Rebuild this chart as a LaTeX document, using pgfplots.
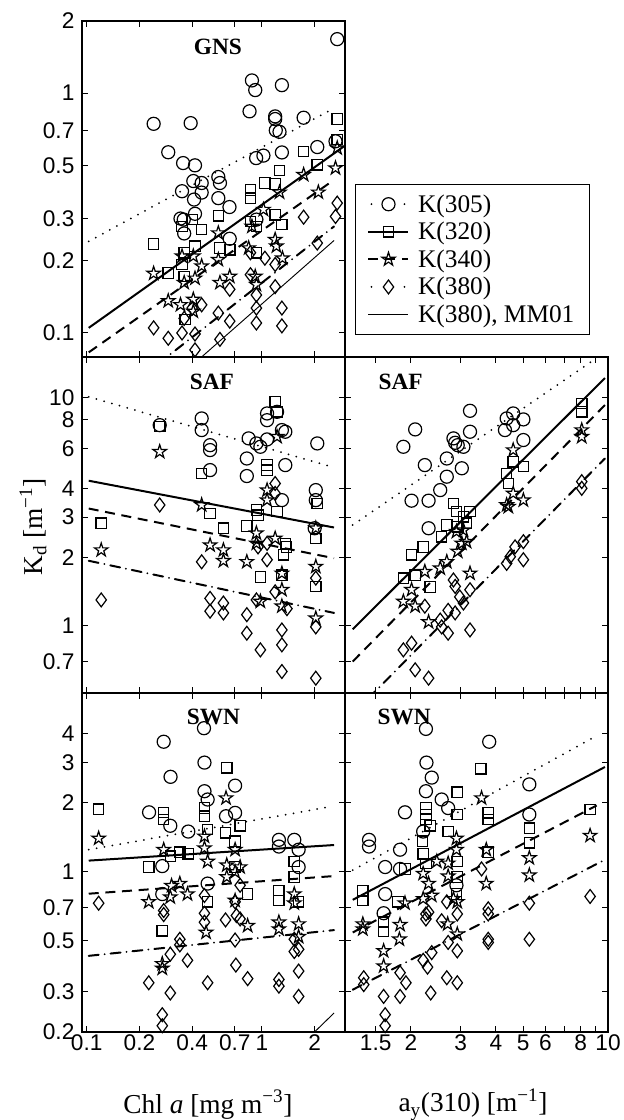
\documentclass[border=0pt]{standalone}
\usepackage{fontspec}
\setmainfont{Liberation Serif}
\newfontfamily\ticksf{Liberation Sans}
\usepackage{pgfplots}
\pgfplotsset{compat=1.18}

% five-pointed open star, like matlab's pentagram
\pgfdeclareplotmark{pstar}{%
  \pgfpathmoveto{\pgfpointpolar{90}{\pgfplotmarksize}}%
  \pgfpathlineto{\pgfpointpolar{126}{0.382\pgfplotmarksize}}%
  \pgfpathlineto{\pgfpointpolar{162}{\pgfplotmarksize}}%
  \pgfpathlineto{\pgfpointpolar{198}{0.382\pgfplotmarksize}}%
  \pgfpathlineto{\pgfpointpolar{234}{\pgfplotmarksize}}%
  \pgfpathlineto{\pgfpointpolar{270}{0.382\pgfplotmarksize}}%
  \pgfpathlineto{\pgfpointpolar{306}{\pgfplotmarksize}}%
  \pgfpathlineto{\pgfpointpolar{342}{0.382\pgfplotmarksize}}%
  \pgfpathlineto{\pgfpointpolar{18}{\pgfplotmarksize}}%
  \pgfpathlineto{\pgfpointpolar{54}{0.382\pgfplotmarksize}}%
  \pgfpathclose
  \pgfusepathqstroke
}

\tikzset{kdttl/.style={font=\bfseries\fontsize{17.5}{17.5}\selectfont},
  kdlab/.style={font=\fontsize{20.5}{20.5}\selectfont}}

\pgfplotsset{
  kdpanel/.style={scale only axis, width=197.25pt, anchor=south west,
    axis line style={line width=0.9pt}, every tick/.style={black, line width=0.75pt},
    tick align=inside, major tick length=4.5pt, minor tick length=0pt,
    tick label style={font=\ticksf\fontsize{17}{17}\selectfont},
    xticklabel style={inner sep=2pt}, yticklabel style={inner sep=5.5pt}},
  kdleftx/.style={xmin=0.094, xmax=2.98, xtick={0.1,0.2,0.4,0.7,1,2}},
  kdrightx/.style={xmin=1.167, xmax=10, xtick={1.5,2,3,4,5,6,7,8,9,10}},
  kdmk/.style={black, only marks, mark options={solid, line width=0.9pt}},
  sA/.style={kdmk, mark=o, mark size=4.9pt},
  sB/.style={kdmk, mark=square, mark size=3.9pt},
  sC/.style={kdmk, mark=pstar, mark size=5.3pt},
  sD/.style={kdmk, mark=diamond, mark size=5.2pt},
  fA/.style={black, line width=1.5pt, line cap=round, dash pattern=on 0pt off 6pt},
  fB/.style={black, line width=1.5pt},
  fC/.style={black, line width=1.5pt, dash pattern=on 7.5pt off 5pt},
  fD/.style={black, line width=1.5pt, line cap=round, dash pattern=on 7.5pt off 4.5pt on 0pt off 4.5pt},
  fM/.style={black, line width=0.7pt},
  legend image code/.code={\draw[mark repeat=2,mark phase=2,#1] plot coordinates {(0pt,0pt) (15pt,0pt) (30pt,0pt)};}
}

\begin{document}
\begin{tikzpicture}
\path[use as bounding box] (0,0) rectangle (468pt,840pt);

% GNS, chl
\begin{axis}[xmode=log, ymode=log, kdpanel, kdleftx, at={(61.5pt,572.25pt)}, height=252pt,
  ymin=0.0794, ymax=2, ytick={0.1,0.2,0.3,0.5,0.7,1,2}, yticklabels={0.1,0.2,0.3,0.5,0.7,1,2},
  xticklabels={},
  legend style={at={(rel axis cs:1.038,0.515)}, anchor=north west, draw=black, line width=0.75pt,
    fill=white, font=\fontsize{19}{19}\selectfont, inner xsep=9pt, inner ysep=5.5pt,
    row sep=2pt, column sep=4.5pt, cells={anchor=west}, nodes={inner sep=2pt}}]
\addlegendimage{black, line width=1.5pt, line cap=round, dash pattern=on 0pt off 24.75pt, dash phase=22.5pt, mark=o, mark size=4.9pt, mark options={solid, line width=0.9pt}}
\addlegendentry{K(305)}
\addlegendimage{black, line width=1.5pt, mark=square, mark size=3.9pt, mark options={solid, line width=0.9pt}}
\addlegendentry{K(320)}
\addlegendimage{black, line width=1.5pt, dash pattern=on 7.5pt off 5pt, mark=pstar, mark size=5.3pt, mark options={solid, line width=0.9pt}}
\addlegendentry{K(340)}
\addlegendimage{black, line width=1.5pt, line cap=round, dash pattern=on 0pt off 24.75pt, dash phase=22.5pt, mark=diamond, mark size=5.2pt, mark options={solid, line width=0.9pt}}
\addlegendentry{K(380)}
\addlegendimage{black, line width=0.7pt}
\addlegendentry{K(380), MM01\hspace{9pt}}
\addplot[sA, forget plot] coordinates {(2.69,1.68) (0.877,1.13) (0.916,1.03) (1.30,1.08) (0.85,0.84) (1.19,0.80) (1.19,0.78) (1.73,0.79) (1.20,0.70) (1.26,0.69) (0.241,0.745) (0.392,0.75) (0.292,0.567) (0.355,0.511) (0.415,0.50) (0.406,0.43) (0.453,0.422) (0.35,0.39) (0.453,0.385) (0.41,0.36) (0.564,0.447) (0.576,0.422) (0.564,0.365) (0.653,0.335) (0.343,0.30) (0.358,0.297) (0.415,0.314) (0.36,0.26) (0.927,0.536) (1.02,0.549) (1.30,0.566) (2.07,0.596) (2.63,0.63) (0.655,0.247) (0.93,0.297)};
\addplot[sB, forget plot] coordinates {(0.241,0.235) (0.292,0.178) (0.35,0.193) (0.36,0.216) (0.35,0.278) (0.40,0.297) (0.453,0.27) (0.415,0.23) (0.36,0.172) (0.365,0.114) (0.564,0.308) (0.576,0.226) (0.655,0.222) (0.86,0.395) (0.86,0.365) (0.86,0.292) (0.93,0.278) (0.93,0.216) (1.04,0.422) (1.19,0.418) (1.26,0.476) (1.19,0.311) (1.30,0.283) (1.73,0.571) (2.07,0.503) (2.69,0.78) (2.69,0.64)};
\addplot[sC, forget plot] coordinates {(0.241,0.177) (0.292,0.136) (0.343,0.131) (0.35,0.209) (0.406,0.138) (0.415,0.169) (0.406,0.209) (0.453,0.19) (0.36,0.162) (0.564,0.202) (0.576,0.162) (0.655,0.172) (0.84,0.226) (0.877,0.278) (0.916,0.172) (0.93,0.159) (1.02,0.327) (1.19,0.245) (1.21,0.23) (1.31,0.205) (1.26,0.386) (1.73,0.457) (2.1,0.386) (2.63,0.487) (2.69,0.59) (0.406,0.123) (0.564,0.261)};
\addplot[sD, forget plot] coordinates {(0.241,0.105) (0.292,0.095) (0.35,0.10) (0.415,0.099) (0.415,0.085) (0.453,0.131) (0.40,0.127) (0.36,0.115) (0.564,0.121) (0.576,0.094) (0.655,0.112) (0.86,0.216) (0.86,0.175) (0.93,0.144) (0.93,0.127) (0.93,0.11) (1.04,0.205) (1.19,0.193) (1.19,0.156) (1.30,0.127) (1.30,0.107) (1.73,0.304) (2.07,0.237) (2.69,0.348) (2.63,0.306) (0.655,0.152)};
\addplot[fA, forget plot] coordinates {(0.1027,0.241) (2.58,0.866)};
\addplot[fB, forget plot] coordinates {(0.1027,0.105) (2.94,0.60)};
\addplot[fC, forget plot] coordinates {(0.1027,0.083) (2.58,0.435)};
\addplot[fD, forget plot] coordinates {(0.1027,0.0442) (2.58,0.278)};
\addplot[fM, forget plot] coordinates {(0.1027,0.0306) (2.58,0.243)};
\node[kdttl] at (rel axis cs:0.517,0.923) {GNS};
\end{axis}

% SAF, chl
\begin{axis}[xmode=log, ymode=log, kdpanel, kdleftx, at={(61.5pt,320.25pt)}, height=252pt,
  ymin=0.508, ymax=15.1, ytick={0.5,0.7,1,2,3,4,6,8,10}, yticklabels={,0.7,1,2,3,4,6,8,10},
  xticklabels={}]
\addplot[sA] coordinates {(0.261,7.59) (0.453,8.12) (0.453,7.22) (0.506,6.2) (0.506,5.9) (0.506,4.82) (0.82,5.42) (0.82,4.54) (0.84,6.64) (0.93,6.31) (0.98,6.1) (1.07,8.54) (1.07,7.98) (1.22,8.68) (1.30,7.22) (1.36,7.1) (1.07,6.57) (1.36,5.07) (1.30,3.56) (2.07,6.31) (2.03,3.94) (2.03,3.56) (2.0,2.68)};
\addplot[sB] coordinates {(0.261,7.5) (0.121,2.82) (0.453,4.66) (0.506,3.11) (0.603,2.68) (0.82,2.74) (0.93,3.22) (0.95,3.06) (1.07,5.07) (1.07,4.82) (1.19,9.6) (1.22,8.68) (1.22,3.17) (1.36,2.3) (1.33,2.05) (0.98,1.64) (1.30,1.67) (2.07,3.44) (2.03,2.42) (2.03,1.49) (1.38,2.22)};
\addplot[sC] coordinates {(0.261,5.8) (0.121,2.15) (0.453,3.39) (0.506,2.26) (0.603,2.15) (0.603,1.93) (0.82,1.91) (0.93,2.55) (0.93,2.3) (1.07,3.94) (1.07,3.56) (1.19,2.42) (1.22,6.75) (1.30,1.70) (1.30,1.44) (1.30,1.22) (0.98,1.28) (2.03,1.82) (2.03,1.08) (2.03,2.68)};
\addplot[sD] coordinates {(0.121,1.30) (0.261,3.39) (0.453,1.91) (0.506,1.32) (0.506,1.16) (0.603,1.26) (0.603,1.14) (0.82,1.12) (0.82,0.929) (0.98,0.785) (0.93,1.30) (1.07,1.95) (1.07,2.3) (1.19,4.21) (1.19,3.81) (1.19,1.41) (1.30,0.96) (1.30,0.826) (1.30,0.631) (1.39,1.19) (2.03,0.59) (2.03,0.99) (2.03,1.62) (0.95,2.22)};
\addplot[fA] coordinates {(0.1027,10.1) (2.58,4.95)};
\addplot[fB] coordinates {(0.1027,4.33) (2.58,2.70)};
\addplot[fC] coordinates {(0.1027,3.27) (2.58,1.98)};
\addplot[fD] coordinates {(0.1027,1.93) (2.58,1.14)};
\node[kdttl] at (rel axis cs:0.494,0.926) {SAF};
\end{axis}

% SWN, chl
\begin{axis}[xmode=log, ymode=log, kdpanel, kdleftx, at={(61.5pt,66pt)}, height=254.25pt,
  ymin=0.2, ymax=6.04, ytick={0.2,0.3,0.5,0.7,1,2,3,4}, yticklabels={0.2,0.3,0.5,0.7,1,2,3,4},
  xticklabels={0.1,0.2,0.4,0.7,1,2}]
\addplot[sA] coordinates {(0.467,4.24) (0.275,3.70) (0.301,2.6) (0.47,3.0) (0.47,2.25) (0.49,2.07) (0.703,2.38) (0.227,1.82) (0.30,1.59) (0.38,1.50) (0.624,1.75) (0.703,1.81) (0.27,1.06) (0.49,0.889) (1.25,1.38) (1.25,1.29) (1.53,1.38) (1.62,1.25) (1.62,1.05) (0.27,0.80)};
\addplot[sB] coordinates {(0.117,1.88) (0.275,1.82) (0.275,1.69) (0.30,1.17) (0.34,1.22) (0.38,1.20) (0.226,1.05) (0.47,1.90) (0.47,1.75) (0.49,1.53) (0.63,2.85) (0.62,1.48) (0.751,1.59) (0.703,1.36) (0.703,1.05) (0.829,0.80) (1.25,0.83) (1.25,0.75) (1.53,1.11) (1.53,0.95) (1.62,0.74) (0.27,0.553) (0.49,0.74)};
\addplot[sC] coordinates {(0.117,1.40) (0.275,1.25) (0.226,0.74) (0.30,0.776) (0.34,0.889) (0.376,0.80) (0.305,0.87) (0.47,1.43) (0.47,1.27) (0.49,1.11) (0.48,0.544) (0.624,2.10) (0.63,1.07) (0.63,0.95) (0.703,1.25) (0.703,1.0) (0.751,1.05) (0.703,0.75) (0.829,0.582) (1.25,0.603) (1.25,0.563) (1.53,0.80) (1.53,0.73) (1.62,0.592) (1.62,0.521) (0.27,0.397) (0.27,0.379)};
\addplot[sD] coordinates {(0.117,0.73) (0.275,0.678) (0.275,0.651) (0.30,0.437) (0.34,0.508) (0.34,0.48) (0.376,0.411) (0.226,0.328) (0.30,0.296) (0.27,0.238) (0.27,0.213) (0.47,0.789) (0.47,0.66) (0.47,0.603) (0.49,0.328) (0.62,0.617) (0.703,0.74) (0.751,0.874) (0.703,0.504) (0.715,0.645) (0.751,0.623) (0.71,0.392) (0.829,0.342) (1.25,0.339) (1.25,0.317) (1.53,0.449) (1.53,0.508) (1.62,0.369) (1.62,0.286) (1.62,0.459)};
\addplot[fA] coordinates {(0.1027,1.25) (2.41,1.92)};
\addplot[fB] coordinates {(0.1027,1.12) (2.58,1.31)};
\addplot[fC] coordinates {(0.1027,0.803) (2.58,0.959)};
\addplot[fD] coordinates {(0.1027,0.43) (2.58,0.557)};
\addplot[fM] coordinates {(1.93,0.195) (2.58,0.242)};
\node[kdttl] at (rel axis cs:0.5,0.929) {SWN};
\end{axis}

% SAF, ay
\begin{axis}[xmode=log, ymode=log, kdpanel, kdrightx, at={(258.75pt,320.25pt)}, height=252pt,
  ymin=0.508, ymax=15.1, ytick={0.5,0.7,1,2,3,4,6,8,10}, yticklabels={}, xticklabels={}]
\addplot[sA] coordinates {(3.24,8.77) (2.07,7.27) (1.88,6.1) (2.24,5.07) (2.01,3.54) (2.31,3.54) (2.31,2.68) (2.54,3.94) (2.68,4.51) (2.68,5.42) (2.87,6.35) (2.93,6.2) (3.07,6.1) (3.03,4.91) (3.24,7.1) (4.37,8.12) (4.61,8.54) (5.01,8.04) (4.31,7.22) (4.61,7.59) (5.01,6.53) (2.83,6.64)};
\addplot[sB] coordinates {(8.07,9.44) (8.07,8.68) (4.61,5.24) (5.01,4.99) (4.37,4.66) (4.43,4.21) (2.83,3.44) (2.90,3.17) (3.24,3.17) (3.07,3.01) (3.15,2.82) (2.68,2.77) (2.57,2.46) (2.21,2.22) (2.01,2.05) (1.88,1.62) (2.07,1.67) (2.34,1.48) (2.93,2.72)};
\addplot[sC] coordinates {(8.07,7.22) (8.07,6.75) (4.61,5.9) (4.37,3.39) (4.61,3.81) (5.01,3.56) (4.43,3.33) (2.90,2.59) (3.03,2.3) (3.15,2.34) (2.93,2.12) (3.24,1.70) (2.68,1.91) (2.54,1.79) (2.24,1.73) (2.01,1.44) (1.88,1.28) (2.07,1.22) (2.31,1.04) (3.07,2.63)};
\addplot[sD] coordinates {(8.07,4.29) (8.07,4.01) (4.37,1.88) (4.5,2.01) (4.68,2.22) (5.01,2.34) (5.01,1.95) (2.83,1.59) (3.24,1.44) (2.98,1.34) (3.07,1.26) (2.87,1.14) (2.71,1.17) (2.54,1.06) (2.57,0.99) (2.71,0.929) (3.24,0.96) (2.24,1.22) (1.88,0.785) (2.01,0.84) (2.07,0.642) (2.31,0.59) (2.87,1.49)};
\addplot[fA] coordinates {(1.243,2.77) (8.87,14.6)};
\addplot[fB] coordinates {(1.243,0.967) (9.75,12.2)};
\addplot[fC] coordinates {(1.243,0.698) (9.75,9.29)};
\addplot[fD] coordinates {(1.243,0.41) (9.75,5.42)};
\node[kdttl, anchor=west] at (rel axis cs:0.11,0.926) {SAF};
\end{axis}

% SWN, ay
\begin{axis}[xmode=log, ymode=log, kdpanel, kdrightx, at={(258.75pt,66pt)}, height=254.25pt,
  ymin=0.2, ymax=6.04, ytick={0.2,0.3,0.5,0.7,1,2,3,4}, yticklabels={},
  xticklabels={1.5,2,3,4,5,6,,8,,10}]
\addplot[sA] coordinates {(2.26,4.21) (3.79,3.70) (2.27,3.0) (2.37,2.58) (2.26,2.25) (2.57,2.07) (1.905,1.82) (2.71,1.90) (1.42,1.38) (1.42,1.29) (1.83,1.25) (1.62,1.05) (1.83,1.03) (1.62,0.80) (2.21,1.50) (5.26,2.41) (5.26,1.78) (1.60,0.66) (2.90,0.874)};
\addplot[sB] coordinates {(3.54,2.82) (2.92,2.23) (2.92,1.78) (3.76,1.81) (3.76,1.69) (2.26,1.90) (2.26,1.78) (2.26,1.69) (2.34,1.59) (2.71,1.50) (2.20,1.36) (2.21,1.20) (2.26,1.09) (2.92,1.11) (2.92,0.95) (1.905,1.03) (1.35,0.825) (1.35,0.75) (1.80,0.74) (1.60,0.603) (1.60,0.55) (5.26,1.55) (5.26,1.34) (3.76,1.22) (8.64,1.87) (2.90,0.80)};
\addplot[sC] coordinates {(3.56,2.10) (8.64,1.44) (5.26,1.15) (5.26,0.967) (3.7,1.25) (3.7,0.889) (2.90,1.40) (2.90,1.25) (2.71,1.09) (2.71,0.957) (2.47,1.11) (2.21,0.983) (2.31,0.889) (2.37,0.789) (2.21,0.763) (2.92,0.74) (2.83,0.763) (2.92,0.535) (1.905,0.73) (1.35,0.592) (1.35,0.563) (1.60,0.452) (1.60,0.388) (1.83,0.588) (1.82,0.508) (2.7,0.592)};
\addplot[sD] coordinates {(8.64,0.781) (5.26,0.73) (5.26,0.508) (3.76,0.69) (3.76,0.655) (3.76,0.508) (3.76,0.492) (3.56,1.03) (2.26,0.655) (2.26,0.623) (2.31,0.667) (2.57,0.612) (2.68,0.74) (2.92,0.655) (2.71,0.492) (2.92,0.452) (2.37,0.444) (2.21,0.411) (2.29,0.384) (2.68,0.345) (2.92,0.328) (2.35,0.296) (1.83,0.363) (1.92,0.328) (1.83,0.286) (1.60,0.286) (1.62,0.238) (1.62,0.213) (1.36,0.345) (1.36,0.322)};
\addplot[fA] coordinates {(1.243,1.017) (9.12,3.93)};
\addplot[fB] coordinates {(1.243,0.755) (9.75,2.87)};
\addplot[fC] coordinates {(1.243,0.544) (9.12,1.95)};
\addplot[fD] coordinates {(1.243,0.306) (9.75,1.13)};
\node[kdttl, anchor=west] at (rel axis cs:0.106,0.929) {SWN};
\end{axis}

\node[rotate=90, kdlab] at (24.75pt,444.75pt) {K\textsubscript{d} [m\textsuperscript{−1}]};
\node[anchor=base, kdlab] at (156pt,5.25pt) {Chl \textit{a} [mg m\textsuperscript{−3}]};
\node[anchor=base, kdlab] at (354.75pt,6pt) {a\textsubscript{y}(310) [m\textsuperscript{−1}]};
\end{tikzpicture}
\end{document}
